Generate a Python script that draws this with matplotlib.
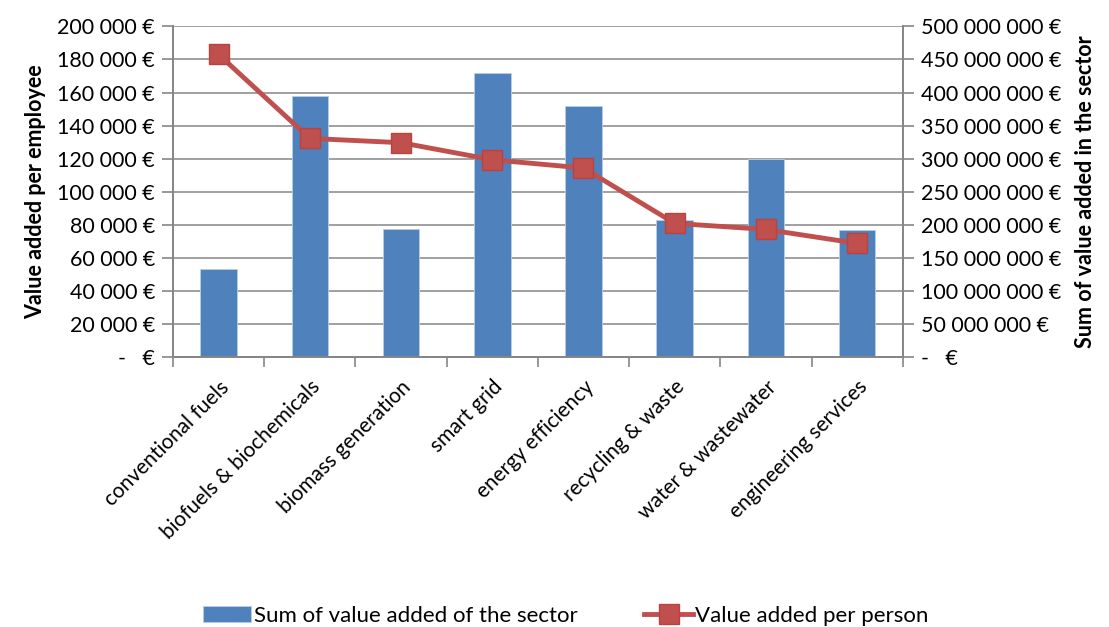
import numpy as np
import matplotlib.pyplot as plt
from matplotlib.ticker import FuncFormatter, FixedLocator

plt.rcParams['font.family'] = ['Lato', 'DejaVu Sans']

sectors = ['conventional fuels', 'biofuels & biochemicals', 'biomass generation', 'smart grid',
           'energy efficiency', 'recycling & waste', 'water & wastewater', 'engineering services']
# sum of value added of the sector (EUR) - bars, right axis
sector_total = [133e6, 395e6, 194e6, 430e6, 379e6, 207e6, 299e6, 193e6]
# value added per person (EUR) - line, left axis
per_person = [183000, 132300, 129700, 119400, 114400, 81000, 77300, 68900]

blue = '#4F81BD'
red = '#C0504D'
grey = '#868686'


def eur(v, pos):
    if v == 0:
        return '-   €'
    return '{:,.0f} €'.format(v).replace(',', ' ')


fig = plt.figure(figsize=(11.09, 6.27), dpi=100)
ax = fig.add_axes([0.156, 0.430, 0.658, 0.528])
ax2 = ax.twinx()

x = np.arange(len(sectors))
ax2.bar(x, sector_total, width=0.4, color=blue, edgecolor='#B9CDE5', linewidth=0.6, zorder=2,
        label='Sum of value added of the sector')
ax2.set_ylim(0, 500e6)
ax2.set_yticks(np.arange(0, 500e6 + 1, 50e6))
ax2.yaxis.set_major_formatter(FuncFormatter(eur))
ax2.grid(axis='y', color=grey, linewidth=1.1, zorder=0)
ax2.set_axisbelow(True)

ax.plot(x, per_person, color=red, linewidth=3.5, marker='s', markersize=14,
        markerfacecolor=red, markeredgecolor='#B8433F', label='Value added per person')
ax.set_zorder(ax2.get_zorder() + 1)
ax.patch.set_visible(False)
ax.set_ylim(0, 200000)
ax.set_yticks(np.arange(0, 200001, 20000))
ax.yaxis.set_major_formatter(FuncFormatter(eur))
ax.set_xlim(-0.5, len(sectors) - 0.5)

ax.set_xticks(x)
ax.set_xticklabels(sectors, rotation=45, ha='right', va='top', rotation_mode='anchor', fontsize=15)
ax.xaxis.set_minor_locator(FixedLocator(np.arange(-0.5, len(sectors), 1)))
ax.tick_params(axis='x', which='major', length=0, pad=14)
ax.tick_params(axis='x', which='minor', length=7, color=grey, width=1.2)

for a in (ax, ax2):
    a.tick_params(axis='y', length=8, color=grey, width=1.2, labelsize=15.5, pad=5)
    for s in a.spines.values():
        s.set_color(grey)
        s.set_linewidth(1.3)
ax.spines['top'].set_visible(False)
ax2.spines['top'].set_visible(False)

ax.set_ylabel('Value added per employee', fontsize=15.5, fontweight='bold', labelpad=8)
ax2.set_ylabel('Sum of value added in the sector', fontsize=15.5, fontweight='bold',
               rotation=90, labelpad=10)

h1, l1 = ax2.get_legend_handles_labels()
h2, l2 = ax.get_legend_handles_labels()
fig.legend(h1 + h2, l1 + l2, loc='center', bbox_to_anchor=(0.51, 0.018), ncol=2, frameon=False,
           fontsize=16, handlelength=2.2, handletextpad=0.1, columnspacing=3.0)

fig.savefig('out.png', dpi=100)
